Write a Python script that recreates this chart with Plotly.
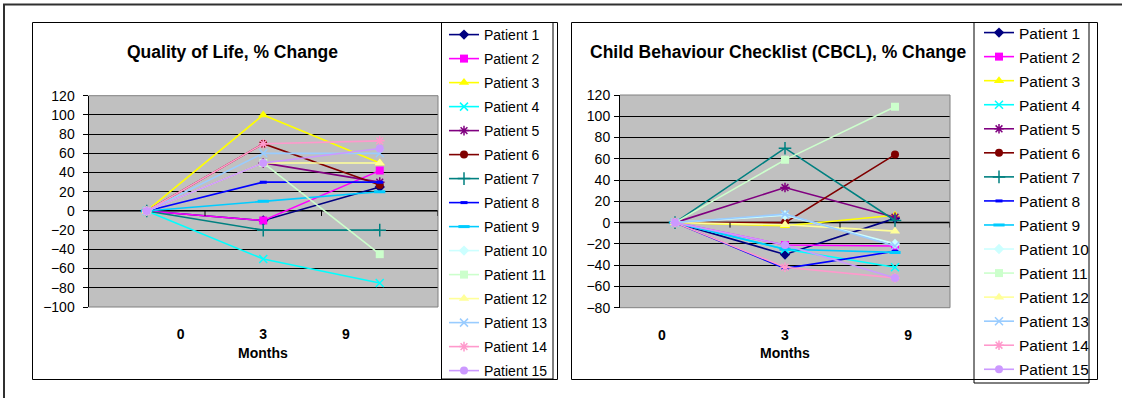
import plotly.graph_objects as go

# ---------------------------------------------------------------- data
MONTHS = ["0", "3", "9"]
PATIENTS = [
    "Patient 1", "Patient 2", "Patient 3", "Patient 4", "Patient 5",
    "Patient 6", "Patient 7", "Patient 8", "Patient 9", "Patient 10",
    "Patient 11", "Patient 12", "Patient 13", "Patient 14", "Patient 15",
]

# Quality of Life, % change from baseline (month 0, 3, 9)
QOL_CHANGE = [
    [0, -10, 25],
    [0, -10, 42],
    [0, 100, 50],
    [0, -50, -75],
    [0, 50, 30],
    [0, 70, 27],
    [0, -20, -20],
    [0, 30, 30],
    [0, 10, 20],
    [0, None, None],
    [0, 50, -45],
    [0, 50, 50],
    [0, 60, 60],
    [0, 70, 73],
    [0, 50, 65],
]

# Child Behaviour Checklist, % change from baseline (month 0, 3, 9)
CBCL_CHANGE = [
    [0, -30, 4],
    [0, -21, -22],
    [0, -3, 7],
    [0, -25, -42],
    [0, 33, 5],
    [0, 0, 64],
    [0, 70, 2],
    [0, -43, -27],
    [0, -25, -28],
    [0, 7, -20],
    [0, 59, 109],
    [0, -2, -8],
    [0, 8, -22],
    [0, -42, -52],
    [0, -21, -52],
]

QOL_TICKS = [120, 100, 80, 60, 40, 20, 0, -20, -40, -60, -80, -100]
CBCL_TICKS = [120, 100, 80, 60, 40, 20, 0, -20, -40, -60, -80]

# ---------------------------------------------------------------- style
W, H = 1122, 398
FONT = "Liberation Sans, Arial, sans-serif"
PLOT_BG = "#C0C0C0"

COLORS = [
    "#000080", "#FF00FF", "#FFFF00", "#00FFFF", "#800080",
    "#800000", "#008080", "#0000FF", "#00CCFF", "#CCFFFF",
    "#CCFFCC", "#FFFF99", "#99CCFF", "#FF99CC", "#CC99FF",
]
SYMBOLS = [
    "diamond", "square", "triangle-up", "x-thin", "asterisk",
    "circle", "cross-thin", "line-ew", "line-ew", "diamond",
    "square", "triangle-up", "x-thin", "asterisk", "circle",
]
SIZES = [8, 8, 9, 8, 8, 8, 9, 5, 8, 8, 8, 9, 8, 8, 8]
LINE_SYMBOLS = {"x-thin", "asterisk", "cross-thin", "line-ew"}


def px(x):
    return x / W


def py(y):
    return 1 - y / H


# plot-area pixel boxes: (left, right, top, bottom)
QOL_BOX = (88.5, 438, 95.7, 307)
CBCL_BOX = (620, 950, 95, 307.7)
# where the month labels sit along each category axis (in category units)
QOL_LABEL_POS = [0.29, 1.0, 1.71]
CBCL_LABEL_POS = [-0.12, 1.0, 2.12]

xs = list(range(len(MONTHS)))
boundaries = [i + 0.5 for i in xs]

fig = go.Figure()


def add_series(values, xaxis, yaxis, legend, group_prefix):
    for i, name in enumerate(PATIENTS):
        sym = SYMBOLS[i]
        is_line_sym = sym in LINE_SYMBOLS
        marker = dict(
            symbol=sym,
            size=SIZES[i],
            color=COLORS[i],
            line=dict(color=COLORS[i], width=1.5 if is_line_sym else 0),
        )
        if sym == "line-ew":
            marker["line"]["width"] = 3
        fig.add_trace(
            go.Scatter(
                x=xs,
                y=values[i],
                name=name,
                mode="lines+markers",
                line=dict(color=COLORS[i], width=1.6),
                marker=marker,
                xaxis=xaxis,
                yaxis=yaxis,
                legend=legend,
                legendgroup=f"{group_prefix}{i}",
                connectgaps=False,
            )
        )


add_series(QOL_CHANGE, "x", "y", "legend", "q")
add_series(CBCL_CHANGE, "x2", "y2", "legend2", "c")


def axes(box, ticks, label_pos, label_gap):
    left, right, top, bottom = box
    xa = dict(
        domain=[px(left), px(right)],
        range=[-0.5, len(MONTHS) - 0.5],
        tickvals=label_pos,
        ticktext=MONTHS,
        ticks="",
        showgrid=False,
        zeroline=False,
        showline=False,
        tickfont=dict(family=FONT, size=14, color="#000000", weight="bold"),
        ticklabelstandoff=17,
        fixedrange=True,
    )
    ya = dict(
        domain=[py(bottom), py(top)],
        range=[min(ticks), max(ticks)],
        tickvals=ticks,
        showgrid=True,
        gridcolor="#000000",
        gridwidth=1,
        zeroline=False,
        showline=True,
        linecolor="#000000",
        linewidth=1,
        ticks="outside",
        ticklen=5,
        tickcolor="#000000",
        tickfont=dict(family=FONT, size=14, color="#000000"),
        ticklabelstandoff=label_gap,
        fixedrange=True,
    )
    return xa, ya


xa1, ya1 = axes(QOL_BOX, QOL_TICKS, QOL_LABEL_POS, 5)
xa2, ya2 = axes(CBCL_BOX, CBCL_TICKS, CBCL_LABEL_POS, 1)
xa1["anchor"] = "y"
ya1["anchor"] = "x"
xa2["anchor"] = "y2"
ya2["anchor"] = "x2"

shapes = []
annotations = []


def frame(box, xref, yref):
    left, right, top, bottom = box
    # grey plot-area border (right, top, bottom)
    shapes.append(dict(
        type="path", xref="paper", yref="paper",
        path=f"M {px(left)},{py(top)} L {px(right)},{py(top)} "
             f"L {px(right)},{py(bottom)} L {px(left)},{py(bottom)}",
        line=dict(color="#808080", width=1), layer="above",
    ))
    # category axis crossing at zero, with boundary tick marks
    shapes.append(dict(
        type="line", xref=f"{xref} domain", yref=yref,
        x0=0, x1=1, y0=0, y1=0,
        line=dict(color="#5A5A5A", width=2), layer="below",
    ))
    for b in boundaries:
        shapes.append(dict(
            type="line", xref=xref, yref=yref,
            ysizemode="pixel", yanchor=0,
            x0=b, x1=b, y0=0, y1=-5,
            line=dict(color="#000000", width=1), layer="above",
        ))


frame(QOL_BOX, "x", "y")
frame(CBCL_BOX, "x2", "y2")

# outer page frame
shapes.append(dict(type="line", xref="paper", yref="paper",
                   x0=px(3), x1=1, y0=py(4.5), y1=py(4.5),
                   line=dict(color="#303030", width=2)))
shapes.append(dict(type="line", xref="paper", yref="paper",
                   x0=px(4), x1=px(4), y0=py(4.5), y1=0,
                   line=dict(color="#303030", width=2)))

# chart boxes and legend boxes
for (l, r, t, b) in [(32.5, 557.5, 22.5, 379.5), (571.5, 1097.5, 22.5, 379.5),
                     (441.5, 553, 22.5, 379), (974, 1089, 22.5, 383)]:
    shapes.append(dict(type="rect", xref="paper", yref="paper",
                       x0=px(l), x1=px(r), y0=py(b), y1=py(t),
                       line=dict(color="#000000", width=1),
                       fillcolor="rgba(0,0,0,0)", layer="below"))

title_font = dict(family=FONT, size=17.5, color="#000000", weight="bold")
label_font = dict(family=FONT, size=14, color="#000000", weight="bold")
annotations += [
    dict(text="Quality of Life, % Change", x=px(232.5), y=py(52),
         xref="paper", yref="paper", showarrow=False, font=title_font,
         xanchor="center", yanchor="middle"),
    dict(text="Child Behaviour Checklist (CBCL), % Change", x=px(778.5), y=py(52),
         xref="paper", yref="paper", showarrow=False, font=title_font,
         xanchor="center", yanchor="middle"),
    dict(text="Months", x=0.5, y=py(353), xref="x domain", yref="paper",
         showarrow=False, font=label_font, xanchor="center", yanchor="middle"),
    dict(text="Months", x=0.5, y=py(353), xref="x2 domain", yref="paper",
         showarrow=False, font=label_font, xanchor="center", yanchor="middle"),
]

legend_common = dict(
    xanchor="left", yanchor="top",
    bgcolor="rgba(0,0,0,0)", borderwidth=0,
    itemwidth=30,
    itemclick=False, itemdoubleclick=False,
)

fig.update_layout(
    width=W, height=H,
    margin=dict(l=0, r=0, t=0, b=0, autoexpand=False),
    paper_bgcolor="#FFFFFF",
    plot_bgcolor=PLOT_BG,
    font=dict(family=FONT, size=14, color="#000000"),
    xaxis=xa1, yaxis=ya1, xaxis2=xa2, yaxis2=ya2,
    shapes=shapes,
    annotations=annotations,
    legend=dict(x=px(444), y=py(19), tracegroupgap=2.8,
                font=dict(family=FONT, size=14, color="#000000"),
                **legend_common),
    legend2=dict(x=px(979), y=py(16), tracegroupgap=0.9,
                 font=dict(family=FONT, size=15.5, color="#000000"),
                 **legend_common),
    showlegend=True,
)

fig.write_html("out.html")
